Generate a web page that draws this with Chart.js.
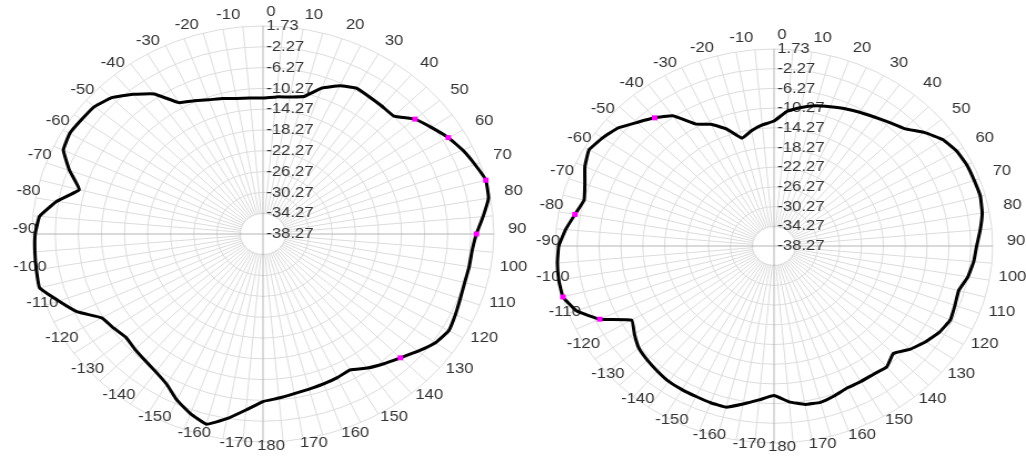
<!DOCTYPE html>
<html>
<head>
<meta charset="utf-8">
<script src="https://cdn.jsdelivr.net/npm/chart.js@4.4.1/dist/chart.umd.min.js"></script>
<style>
  html, body { margin: 0; padding: 0; background: #fff; }
  body { width: 1026px; height: 459px; position: relative; overflow: hidden; }
  .plot { position: absolute; top: 0; width: 540px; height: 459px; transform-origin: 270px 0; }
  #leftBox { left: -7px; }
  #rightBox { left: 504px; }
</style>
</head>
<body>
<div class="plot" id="leftBox"><canvas id="leftChart"></canvas></div>
<div class="plot" id="rightBox"><canvas id="rightChart"></canvas></div>
<script>
// angle in degrees, clockwise from the top
const angles = [0, 5, 10, 15, 20, 25, 30, 35, 40, 45, 50, 55, 60, 65, 70, 75, 80, 85,
  90, 95, 100, 105, 110, 115, 120, 125, 130, 135, 140, 145, 150, 155, 160, 165, 170, 175,
  180, -175, -170, -165, -160, -155, -150, -145, -140, -135, -130, -125, -120, -115, -110, -105, -100, -95,
  -90, -85, -80, -75, -70, -65, -60, -55, -50, -45, -40, -35, -30, -25, -20, -15, -10, -5];

const leftGain = [-12.1, -11.8, -11.5, -10.9, -8.4, -6.8, -5.9, -6.1, -6.2, -6.2, -3.9, -2.6, -1.2, -0.1, 0.8, 1.7, 1.4, 0.0,
  -1.3, -1.9, -2.0, -2.1, -1.9, -1.5, -1.1, -1.8, -3.2, -4.6, -5.7, -6.8, -8.1, -7.8, -7.6, -7.4, -7.1, -6.6,
  -6.05, -4.3, -2.2, -0.4, -1.5, -3.0, -4.9, -5.9, -6.5, -6.9, -7.3, -6.7, -6.0, -2.8, -0.6, 1.8, 1.6, 1.4,
  1.2, 0.6, -2.0, -5.3, -2.6, -0.1, 0.4, 0.1, -0.15, -1.2, -3.2, -5.4, -9.1, -10.0, -10.8, -11.3, -11.8, -12.0];

const rightGain = [-12.9, -10.8, -9.7, -8.8, -8.2, -7.5, -6.9, -6.3, -5.5, -4.55, -2.4, -0.6, 0.3, 0.65, 0.7, 0.8, 0.4, -0.4,
  -1.2, -1.6, -2.25, -3.3, -3.05, -2.7, -3.3, -4.4, -5.7, -7.4, -6.2, -6.5, -6.5, -6.5, -5.9, -5.4, -5.6, -6.5,
  -7.9, -6.9, -5.7, -4.4, -4.4, -4.55, -4.6, -4.7, -5.1, -5.5, -6.0, -7.1, -8.2, -3.1, 0.2, 1.7, 1.7, 1.5,
  1.1, 0.0, -1.3, -2.3, -1.45, -0.1, 0.8, 0.0, -1.0, -2.8, -4.3, -6.0, -9.7, -11.0, -13.0, -15.6, -14.5, -13.6];

const leftMarkerAngles = [50, 60, 75, 90, 135];
const leftMarkerValues = [-3.9, -1.2, 1.7, -1.3, -4.6];
const rightMarkerAngles = [-40, -80, -105, -115];
const rightMarkerValues = [-4.3, -1.3, 1.7, -3.1];

const tickMin = -38.27;
const tickMax = 1.73;
const tickStep = 4;

const textColor = '#333333';
const gridColor = '#dcdcdc';
const axisColor = '#b4b4b4';
const fontFamily = '"Liberation Sans", Arial, sans-serif';
const boxW = 540, boxH = 459;
const stretchX = 1.11;   // the source picture is wider than it is tall

document.querySelectorAll('.plot').forEach(el => { el.style.transform = 'scaleX(' + stretchX + ')'; });

function markerData(markAngles, markValues) {
  return angles.map(a => {
    const k = markAngles.indexOf(a);
    return k >= 0 ? markValues[k] : null;
  });
}

// white hub, axes through it, value labels beside the 0 axis, angle labels round the rim
const polarExtras = {
  id: 'polarExtras',
  beforeDatasetsDraw(chart) {
    const s = chart.scales.r;
    const ctx = chart.ctx;
    const hub = s.getDistanceFromCenterForValue(s.ticks[1].value);
    ctx.save();
    ctx.fillStyle = '#ffffff';
    ctx.beginPath();
    ctx.arc(s.xCenter, s.yCenter, hub - 1, 0, Math.PI * 2);
    ctx.fill();
    ctx.strokeStyle = axisColor;
    ctx.lineWidth = 1;
    ctx.beginPath();
    ctx.moveTo(s.xCenter - hub, s.yCenter);
    ctx.lineTo(s.xCenter + hub, s.yCenter);
    ctx.moveTo(s.xCenter, s.yCenter - hub);
    ctx.lineTo(s.xCenter, s.yCenter + hub);
    ctx.stroke();

    ctx.fillStyle = textColor;
    ctx.font = '15px ' + fontFamily;
    ctx.textAlign = 'left';
    ctx.textBaseline = 'middle';
    s.ticks.forEach(t => {
      const d = s.getDistanceFromCenterForValue(t.value);
      ctx.fillText(t.value.toFixed(2), s.xCenter + 3, s.yCenter - d);
    });

    // angle labels sit a little right of and above their spoke ends, like the source plot
    ctx.textAlign = 'center';
    angles.forEach((a, i) => {
      if (a % 10 !== 0) return;
      const th = a * Math.PI / 180;
      const p = s.getPointPosition(i, s.drawingArea + 3);
      let ox = 8 + 12 * Math.sin(th);
      if (a < -90) ox -= 8 * Math.cos(th);
      const oy = -5 - 6 * Math.cos(th);
      ctx.fillText(String(a), p.x + ox / stretchX, p.y + oy);
    });
    ctx.restore();
  }
};

function makePolar(canvasId, gain, markAngles, markValues, radius, centerY) {
  const side = boxW / 2 - radius;
  const top = centerY - radius;
  const ctx = document.getElementById(canvasId).getContext('2d');
  return new Chart(ctx, {
    type: 'radar',
    data: {
      labels: angles,
      datasets: [
        {
          label: 'markers',
          data: markerData(markAngles, markValues),
          showLine: false,
          pointStyle: 'rect',
          pointRadius: 3.5,
          pointBackgroundColor: '#ff00ff',
          pointBorderColor: '#ff00ff',
          pointBorderWidth: 0
        },
        {
          label: 'gain',
          data: gain,
          borderColor: '#000000',
          borderWidth: 3,
          fill: false,
          tension: 0.1,
          pointRadius: 0
        }
      ]
    },
    options: {
      responsive: true,
      maintainAspectRatio: false,
      animation: false,
      layout: { padding: { left: side, right: side, top: top, bottom: boxH - top - 2 * radius } },
      plugins: { legend: { display: false }, tooltip: { enabled: false } },
      scales: {
        r: {
          min: tickMin,
          max: tickMax,
          startAngle: 0,
          ticks: { stepSize: tickStep, display: false },
          grid: { circular: true, color: gridColor, lineWidth: 1 },
          angleLines: {
            color: c => (angles[c.index] % 90 === 0 ? axisColor : gridColor),
            lineWidth: 1
          },
          pointLabels: { display: false }
        }
      }
    },
    plugins: [polarExtras]
  });
}

makePolar('leftChart', leftGain, leftMarkerAngles, leftMarkerValues, 208, 234);
makePolar('rightChart', rightGain, rightMarkerAngles, rightMarkerValues, 197, 246);
</script>
</body>
</html>
